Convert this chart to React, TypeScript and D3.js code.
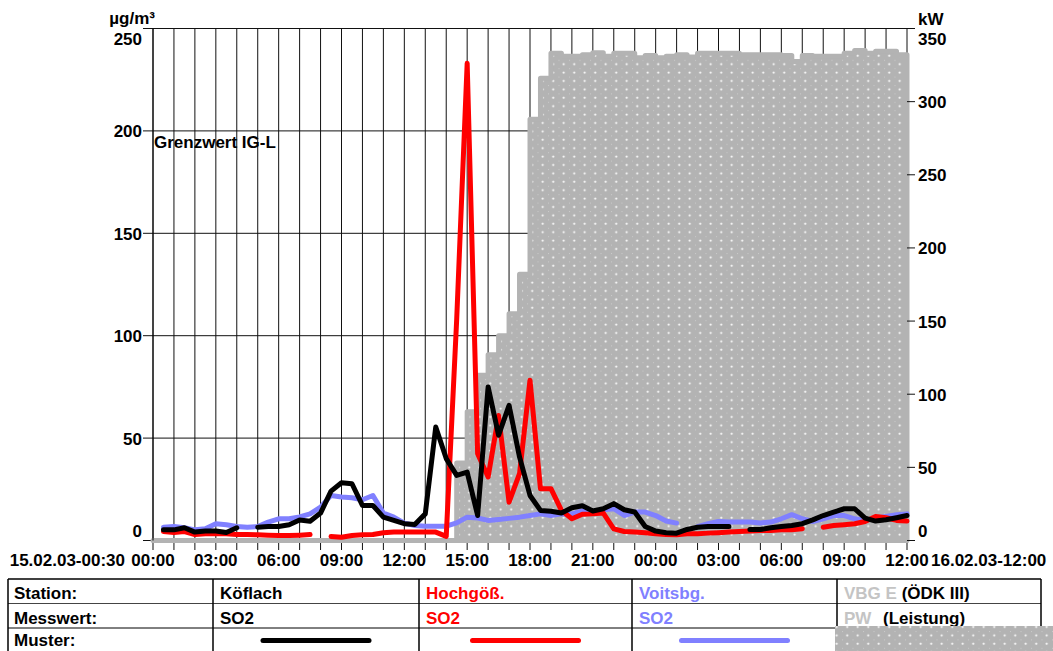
import React from "react";
import * as d3 from "d3";

// Half-hourly SO2 means (µg/m³), 15.02.03 00:30 … 16.02.03 12:00; null = no value
const koeflach: (number | null)[] = [
  5.2, 5.2, 6.2, 4.1, 4.6, 4.6, 3.9, 6.2, null, 6.5, 6.8, 6.8,
  7.7, 10, 9.4, 13.4, 24.1, 28.2, 27.7, 17.1, 17.1, 11.4, 9.8, 8.2,
  7.8, 13, 55.4, 40, 31.8, 33.4, 12.2, 75, 51.4, 66, 40.8, 22,
  14.7, 14.3, 13.4, 16, 17, 14.4, 15.5, 18, 15, 13.9, 6.8, 4.6,
  3.8, 3.6, 5.4, 6.5, 6.8, 6.8, 6.8, null, 5.4, 5.4, 6.2, 6.8,
  7.3, 8.2, 10.1, 12.2, 13.9, 15.5, 15.5, 10.9, 9.5, 10.1, 11.1, 12.2,
];

const hochgoess: (number | null)[] = [
  4.4, 3.9, 4.4, 2.9, 3.3, 3.3, 3.3, 2.9, 2.9, 2.8, 2.6, 2.4,
  2.4, 2.6, 2.9, null, 2.0, 1.6, 2.4, 2.8, 2.9, 3.8, 4.1, 4.1,
  4.1, 4.1, 4.1, 2.0, 108, 233, 42.4, 31, 61, 18.7, 32.6, 78.3,
  25.3, 25.3, 14.7, 10.6, 12.8, 13, 13.4, 5.7, 4.4, 4.1, 3.8, 3.3,
  2.9, 2.8, 3.3, 3.3, 3.6, 3.8, 4.1, 4.4, 4.6, 4.9, 4.9, 5.2,
  5.2, 5.7, null, 6.5, 7.3, 7.7, 8.2, 9.3, 11.7, 11.1, 9.8, 9.5,
];

const voitsberg: (number | null)[] = [
  6.5, 6.8, 6.2, 5.2, 5.7, 8.2, 7.7, 6.8, 6.5, 6.8, 9, 10.6,
  10.6, 11.5, 13, 16.3, 22, 21.2, 20.9, 19.9, 22, 13.4, 11.4, 8.5,
  7.3, 7, 7, 7, 8.6, 11.4, 11, 9.8, 10.3, 10.8, 11.4, 12.2,
  13, 12.2, 13, 13, 14.5, 13.9, 15, 15.5, 12.2, 13.9, 13.9, 12.2,
  9.5, 8.5, null, 6.8, 8.2, 9.3, 9, 9, 9, 8.6, 9, 10.6,
  12.6, 10.6, 9.3, 10.6, 12.2, 12.2, 10.6, 9.8, 10.9, 11.7, 12.6, 13,
];

// Power output of VBG E (kW) per half hour, from 15.02.03 00:00
const powerKW: number[] = [
  0, 0, 0, 0, 0, 0, 0, 0, 0, 0, 0, 0,
  0, 0, 0, 0, 0, 0, 0, 0, 0, 0, 0, 0,
  0, 0, 0, 0, 0, 53, 88, 113, 127, 140, 155, 182,
  288, 316, 333, 331, 331, 332, 333.5, 331, 333, 333, 330, 331.5,
  330, 331, 332, 330.5, 333, 333, 333, 333, 332, 332, 332, 332,
  331.5, 327.5, 331.5, 331, 331, 331, 333, 335, 333, 334.5, 334.5, 332,
];

const leftTicks = [0, 50, 100, 150, 200, 250];
const rightTicks = [0, 50, 100, 150, 200, 250, 300, 350];

const legendColumns = [
  { station: "Köflach", stationColor: "#000", value: "SO2", color: "#000000" },
  { station: "Hochgöß.", stationColor: "#ff0000", value: "SO2", color: "#ff0000" },
  { station: "Voitsbg.", stationColor: "#8080ff", value: "SO2", color: "#8080ff" },
];

const START = new Date(2003, 1, 15, 0, 0);
const slot = (k: number) => new Date(START.getTime() + k * 30 * 60 * 1000);

const W = 1053;
const H = 651;
const PLOT = { left: 153, right: 907, top: 28.5, bottom: 540.5 };
const FONT = "'Liberation Sans', Arial, sans-serif";
const GREY = "#b3b3b3";

export default function App() {
  const x = d3.scaleTime().domain([START, slot(72)]).range([PLOT.left, PLOT.right]);
  const yL = d3.scaleLinear().domain([0, 250]).range([PLOT.bottom, PLOT.top]);
  const yR = d3.scaleLinear().domain([0, 350]).range([PLOT.bottom, PLOT.top]);

  const hours = d3.timeHour.range(START, new Date(slot(72).getTime() + 1));
  const labelHours = hours.filter((d) => d.getHours() % 3 === 0);
  const fmt = d3.timeFormat("%H:%M");

  const powerPts = d3.range(73).map((k) => ({ t: slot(k), v: powerKW[Math.min(k, 71)] }));
  const powerArea = d3
    .area<{ t: Date; v: number }>()
    .curve(d3.curveStepAfter)
    .x((d) => x(d.t))
    .y0(yR(0))
    .y1((d) => yR(d.v))(powerPts);

  const mkLine = (vals: (number | null)[]) =>
    d3
      .line<number | null>()
      .defined((v) => v != null)
      .x((_, i) => x(slot(i + 1)))
      .y((v) => yL(v as number))(vals) as string;

  const clampLbl = (y: number) => Math.max(45, Math.min(537, y + 6.5));

  const cols = [8, 213, 419, 632, 837, 1041];
  const rows = [579, 603.5, 628];

  const txt = {
    fontFamily: FONT,
    fontWeight: "bold" as const,
    fontSize: 17,
  };

  return (
    <svg
      width={W}
      height={H}
      style={{ position: "absolute", left: 0, top: 0, background: "#fff" }}
    >
      <defs>
        <pattern id="pwDots" patternUnits="userSpaceOnUse" width={10.5} height={8.4} x={2} y={1}>
          <rect width={10.5} height={8.4} fill={GREY} />
          <rect x={4.4} y={3.6} width={1.6} height={1.6} fill="#fff" />
          <rect x={3.9} y={4.1} width={2.6} height={0.6} fill="#fff" opacity={0.5} />
          <rect x={4.9} y={3.1} width={0.6} height={2.6} fill="#fff" opacity={0.5} />
          <rect x={0} y={0} width={1} height={1} fill="#fff" opacity={0.3} />
        </pattern>
      </defs>

      {/* hourly vertical grid + bottom ticks */}
      {hours.map((d, i) => (
        <line key={"v" + i} x1={x(d)} x2={x(d)} y1={PLOT.top} y2={550} stroke="#111" strokeWidth={1} />
      ))}
      {/* horizontal grid at left-axis ticks */}
      {leftTicks.map((v) => (
        <line key={"h" + v} x1={143} x2={PLOT.right} y1={yL(v)} y2={yL(v)} stroke="#111" strokeWidth={1} />
      ))}
      <line x1={PLOT.right} x2={915} y1={PLOT.top} y2={PLOT.top} stroke="#111" strokeWidth={1} />

      {/* power area */}
      <path
        d={powerArea as string}
        fill="url(#pwDots)"
        stroke={GREY}
        strokeWidth={5}
        strokeLinejoin="round"
      />

      {/* SO2 series */}
      {[
        { vals: voitsberg, c: "#8080ff" },
        { vals: hochgoess, c: "#ff0000" },
        { vals: koeflach, c: "#000000" },
      ].map((s, i) => (
        <path
          key={"s" + i}
          d={mkLine(s.vals)}
          fill="none"
          stroke={s.c}
          strokeWidth={5}
          strokeLinecap="round"
          strokeLinejoin="round"
        />
      ))}

      {/* left axis */}
      <line x1={PLOT.left} x2={PLOT.left} y1={PLOT.top} y2={PLOT.bottom} stroke="#000" strokeWidth={1} />
      {leftTicks.map((v) => (
        <text key={"lt" + v} x={142} y={clampLbl(yL(v))} textAnchor="end" {...txt}>
          {v}
        </text>
      ))}
      <text x={155} y={24} textAnchor="end" {...txt}>
        µg/m³
      </text>

      {/* right axis */}
      {rightTicks.map((v) => (
        <g key={"rt" + v}>
          <line x1={PLOT.right} x2={915} y1={yR(v)} y2={yR(v)} stroke="#111" strokeWidth={1} />
          <text x={918} y={clampLbl(yR(v))} {...txt}>
            {v}
          </text>
        </g>
      ))}
      <text x={918} y={25} {...txt}>
        kW
      </text>

      <text x={154} y={148} {...txt}>
        Grenzwert IG-L
      </text>

      {/* time axis labels */}
      {labelHours.map((d, i) => (
        <text key={"xl" + i} x={x(d)} y={566} textAnchor="middle" {...txt}>
          {fmt(d)}
        </text>
      ))}
      <text x={125} y={566} textAnchor="end" {...txt}>
        15.02.03-00:30
      </text>
      <text x={931} y={566} {...txt}>
        16.02.03-12:00
      </text>

      {/* legend table */}
      <g>
        <line x1={cols[0]} x2={cols[5]} y1={rows[0]} y2={rows[0]} stroke="#000" strokeWidth={1.5} />
        <line x1={cols[0]} x2={cols[5]} y1={rows[1]} y2={rows[1]} stroke="#444" strokeWidth={1} />
        <line x1={cols[0]} x2={cols[5]} y1={rows[2]} y2={rows[2]} stroke="#000" strokeWidth={1} />
        {cols.map((cx, i) => (
          <line key={"c" + i} x1={cx} x2={cx} y1={rows[0]} y2={H} stroke="#000" strokeWidth={1.5} />
        ))}
        <text x={14} y={599} {...txt}>Station:</text>
        <text x={14} y={624} {...txt}>Messwert:</text>
        <text x={14} y={646} {...txt}>Muster:</text>
        {legendColumns.map((c, i) => {
          const x0 = cols[i + 1];
          const mid = (cols[i + 1] + cols[i + 2]) / 2;
          return (
            <g key={"lg" + i}>
              <text x={x0 + 7} y={599} fill={c.stationColor} {...txt}>
                {c.station}
              </text>
              <text x={x0 + 7} y={624} fill={c.stationColor} {...txt}>
                {c.value}
              </text>
              <line
                x1={mid - 53}
                x2={mid + 53}
                y1={640.5}
                y2={640.5}
                stroke={c.color}
                strokeWidth={5}
                strokeLinecap="round"
              />
            </g>
          );
        })}
        <text x={844} y={599} {...txt}>
          <tspan fill="#c4c4c4">VBG E</tspan>
          <tspan fill="#000"> (ÖDK III)</tspan>
        </text>
        <text x={844} y={624} {...txt}>
          <tspan fill="#c4c4c4">PW</tspan>
        </text>
        <text x={883} y={624} {...txt}>
          (Leistung)
        </text>
        <rect x={835} y={626} width={W - 835} height={H - 626} fill="url(#pwDots)" />
      </g>
    </svg>
  );
}
